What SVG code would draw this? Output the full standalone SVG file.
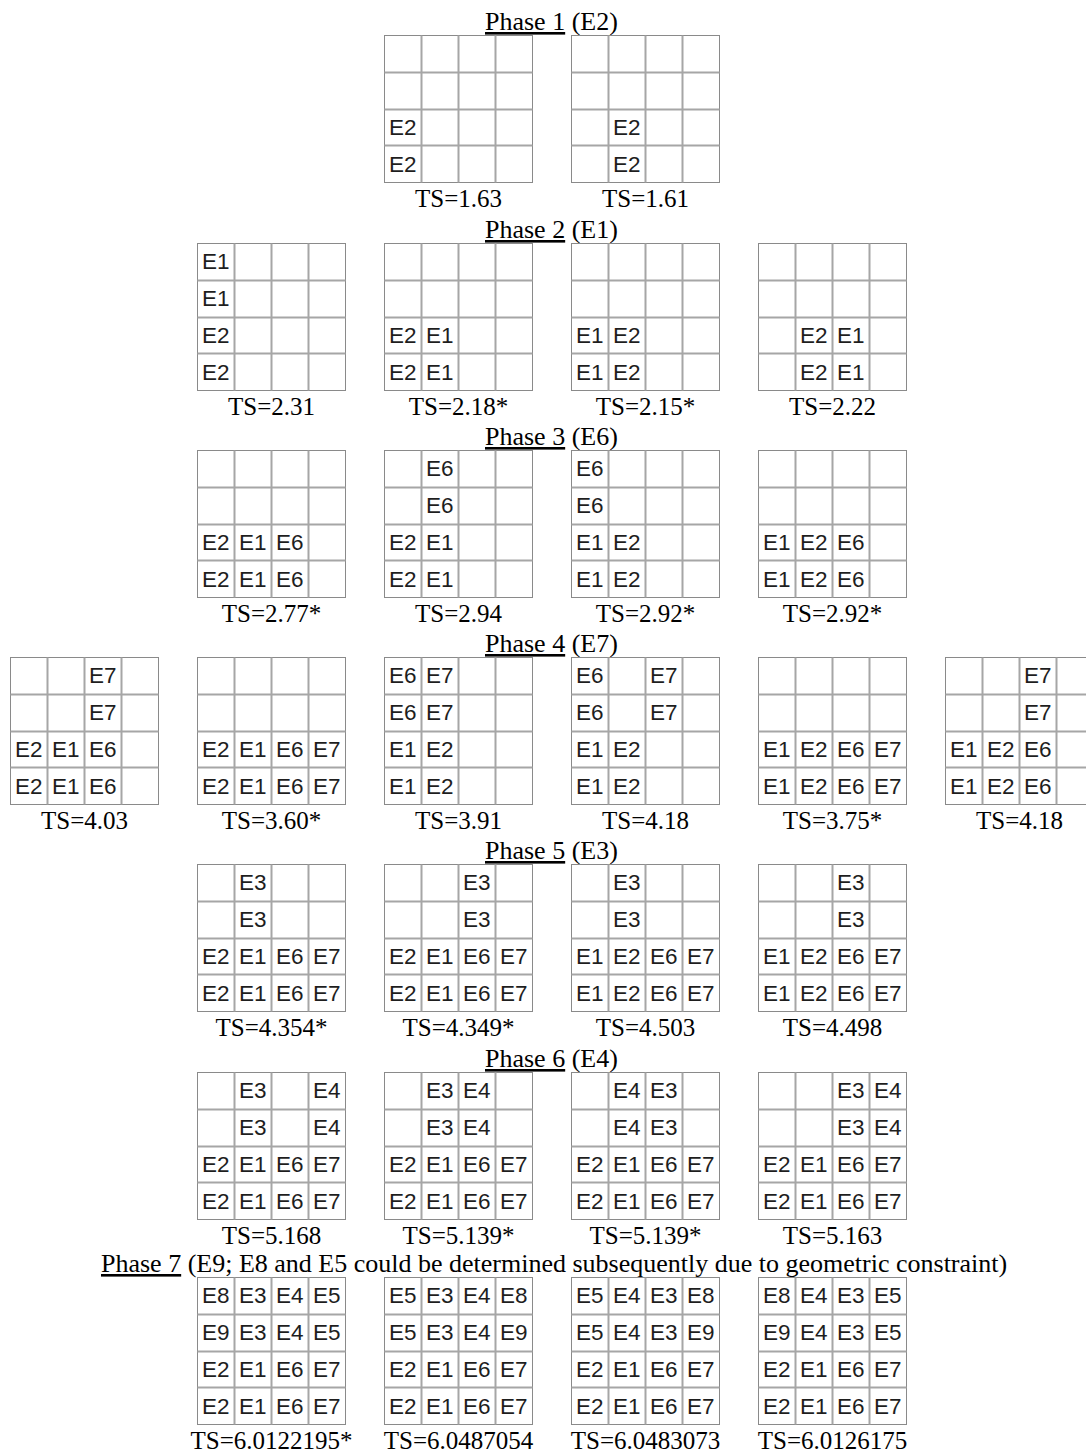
<svg xmlns="http://www.w3.org/2000/svg" xmlns:xlink="http://www.w3.org/1999/xlink" width="1086" height="1454" viewBox="0 0 1086 1454">
<style>
.ph{font-family:"Liberation Serif","Times New Roman",serif;font-size:26px;fill:#000}
.ts{font-family:"Liberation Serif","Times New Roman",serif;font-size:25px;fill:#000;text-anchor:middle}
.c{font-family:"Liberation Sans",Arial,sans-serif;font-size:22.5px;fill:#1e1e1e}
.u{text-decoration:underline}
</style>
<defs>
<g id="grid">
<rect x="0" y="0" width="148" height="147" fill="#fff" stroke="#8a8a8a" stroke-width="1"/>
<path d="M37 0V147M74 0V147M111 0V147M0 37H148M0 74H148M0 110H148" stroke="#a6a6a6" stroke-width="2" fill="none"/>
</g>
</defs>
<rect width="1086" height="1454" fill="#fff"/>

<!-- Phase labels -->
<g id="labels">
<text class="ph" x="485" y="30"><tspan class="u">Phase 1</tspan> (E2)</text>
<text class="ph" x="485" y="238"><tspan class="u">Phase 2</tspan> (E1)</text>
<text class="ph" x="485" y="445"><tspan class="u">Phase 3</tspan> (E6)</text>
<text class="ph" x="485" y="652"><tspan class="u">Phase 4</tspan> (E7)</text>
<text class="ph" x="485" y="859"><tspan class="u">Phase 5</tspan> (E3)</text>
<text class="ph" x="485" y="1067"><tspan class="u">Phase 6</tspan> (E4)</text>
<text class="ph" x="101" y="1272"><tspan class="u">Phase 7</tspan> (E9; E8 and E5 could be determined subsequently due to geometric constraint)</text>
</g>

<!-- Phase 1 -->
<g id="p1g1" transform="translate(384.5,35.5)"><use xlink:href="#grid"/>
<text class="c" x="4.5" y="99">E2</text><text class="c" x="4.5" y="136">E2</text>
<text class="ts" x="74" y="171">TS=1.63</text></g>
<g id="p1g2" transform="translate(571.5,35.5)"><use xlink:href="#grid"/>
<text class="c" x="41.5" y="99">E2</text><text class="c" x="41.5" y="136">E2</text>
<text class="ts" x="74" y="171">TS=1.61</text></g>

<!-- Phase 2 -->
<g id="p2g1" transform="translate(197.5,243.5)"><use xlink:href="#grid"/>
<text class="c" x="4.5" y="25">E1</text><text class="c" x="4.5" y="62">E1</text>
<text class="c" x="4.5" y="99">E2</text><text class="c" x="4.5" y="136">E2</text>
<text class="ts" x="74" y="171">TS=2.31</text></g>
<g id="p2g2" transform="translate(384.5,243.5)"><use xlink:href="#grid"/>
<text class="c" x="4.5" y="99">E2</text><text class="c" x="41.5" y="99">E1</text>
<text class="c" x="4.5" y="136">E2</text><text class="c" x="41.5" y="136">E1</text>
<text class="ts" x="74" y="171">TS=2.18*</text></g>
<g id="p2g3" transform="translate(571.5,243.5)"><use xlink:href="#grid"/>
<text class="c" x="4.5" y="99">E1</text><text class="c" x="41.5" y="99">E2</text>
<text class="c" x="4.5" y="136">E1</text><text class="c" x="41.5" y="136">E2</text>
<text class="ts" x="74" y="171">TS=2.15*</text></g>
<g id="p2g4" transform="translate(758.5,243.5)"><use xlink:href="#grid"/>
<text class="c" x="41.5" y="99">E2</text><text class="c" x="78.5" y="99">E1</text>
<text class="c" x="41.5" y="136">E2</text><text class="c" x="78.5" y="136">E1</text>
<text class="ts" x="74" y="171">TS=2.22</text></g>

<!-- Phase 3 -->
<g id="p3g1" transform="translate(197.5,450.5)"><use xlink:href="#grid"/>
<text class="c" x="4.5" y="99">E2</text><text class="c" x="41.5" y="99">E1</text><text class="c" x="78.5" y="99">E6</text>
<text class="c" x="4.5" y="136">E2</text><text class="c" x="41.5" y="136">E1</text><text class="c" x="78.5" y="136">E6</text>
<text class="ts" x="74" y="171">TS=2.77*</text></g>
<g id="p3g2" transform="translate(384.5,450.5)"><use xlink:href="#grid"/>
<text class="c" x="41.5" y="25">E6</text><text class="c" x="41.5" y="62">E6</text>
<text class="c" x="4.5" y="99">E2</text><text class="c" x="41.5" y="99">E1</text>
<text class="c" x="4.5" y="136">E2</text><text class="c" x="41.5" y="136">E1</text>
<text class="ts" x="74" y="171">TS=2.94</text></g>
<g id="p3g3" transform="translate(571.5,450.5)"><use xlink:href="#grid"/>
<text class="c" x="4.5" y="25">E6</text><text class="c" x="4.5" y="62">E6</text>
<text class="c" x="4.5" y="99">E1</text><text class="c" x="41.5" y="99">E2</text>
<text class="c" x="4.5" y="136">E1</text><text class="c" x="41.5" y="136">E2</text>
<text class="ts" x="74" y="171">TS=2.92*</text></g>
<g id="p3g4" transform="translate(758.5,450.5)"><use xlink:href="#grid"/>
<text class="c" x="4.5" y="99">E1</text><text class="c" x="41.5" y="99">E2</text><text class="c" x="78.5" y="99">E6</text>
<text class="c" x="4.5" y="136">E1</text><text class="c" x="41.5" y="136">E2</text><text class="c" x="78.5" y="136">E6</text>
<text class="ts" x="74" y="171">TS=2.92*</text></g>

<!-- Phase 4 -->
<g id="p4g1" transform="translate(10.5,657.5)"><use xlink:href="#grid"/>
<text class="c" x="78.5" y="25">E7</text><text class="c" x="78.5" y="62">E7</text>
<text class="c" x="4.5" y="99">E2</text><text class="c" x="41.5" y="99">E1</text><text class="c" x="78.5" y="99">E6</text>
<text class="c" x="4.5" y="136">E2</text><text class="c" x="41.5" y="136">E1</text><text class="c" x="78.5" y="136">E6</text>
<text class="ts" x="74" y="171">TS=4.03</text></g>
<g id="p4g2" transform="translate(197.5,657.5)"><use xlink:href="#grid"/>
<text class="c" x="4.5" y="99">E2</text><text class="c" x="41.5" y="99">E1</text><text class="c" x="78.5" y="99">E6</text><text class="c" x="115.5" y="99">E7</text>
<text class="c" x="4.5" y="136">E2</text><text class="c" x="41.5" y="136">E1</text><text class="c" x="78.5" y="136">E6</text><text class="c" x="115.5" y="136">E7</text>
<text class="ts" x="74" y="171">TS=3.60*</text></g>
<g id="p4g3" transform="translate(384.5,657.5)"><use xlink:href="#grid"/>
<text class="c" x="4.5" y="25">E6</text><text class="c" x="41.5" y="25">E7</text>
<text class="c" x="4.5" y="62">E6</text><text class="c" x="41.5" y="62">E7</text>
<text class="c" x="4.5" y="99">E1</text><text class="c" x="41.5" y="99">E2</text>
<text class="c" x="4.5" y="136">E1</text><text class="c" x="41.5" y="136">E2</text>
<text class="ts" x="74" y="171">TS=3.91</text></g>
<g id="p4g4" transform="translate(571.5,657.5)"><use xlink:href="#grid"/>
<text class="c" x="4.5" y="25">E6</text><text class="c" x="78.5" y="25">E7</text>
<text class="c" x="4.5" y="62">E6</text><text class="c" x="78.5" y="62">E7</text>
<text class="c" x="4.5" y="99">E1</text><text class="c" x="41.5" y="99">E2</text>
<text class="c" x="4.5" y="136">E1</text><text class="c" x="41.5" y="136">E2</text>
<text class="ts" x="74" y="171">TS=4.18</text></g>
<g id="p4g5" transform="translate(758.5,657.5)"><use xlink:href="#grid"/>
<text class="c" x="4.5" y="99">E1</text><text class="c" x="41.5" y="99">E2</text><text class="c" x="78.5" y="99">E6</text><text class="c" x="115.5" y="99">E7</text>
<text class="c" x="4.5" y="136">E1</text><text class="c" x="41.5" y="136">E2</text><text class="c" x="78.5" y="136">E6</text><text class="c" x="115.5" y="136">E7</text>
<text class="ts" x="74" y="171">TS=3.75*</text></g>
<g id="p4g6" transform="translate(945.5,657.5)"><use xlink:href="#grid"/>
<text class="c" x="78.5" y="25">E7</text><text class="c" x="78.5" y="62">E7</text>
<text class="c" x="4.5" y="99">E1</text><text class="c" x="41.5" y="99">E2</text><text class="c" x="78.5" y="99">E6</text>
<text class="c" x="4.5" y="136">E1</text><text class="c" x="41.5" y="136">E2</text><text class="c" x="78.5" y="136">E6</text>
<text class="ts" x="74" y="171">TS=4.18</text></g>

<!-- Phase 5 -->
<g id="p5g1" transform="translate(197.5,864.5)"><use xlink:href="#grid"/>
<text class="c" x="41.5" y="25">E3</text><text class="c" x="41.5" y="62">E3</text>
<text class="c" x="4.5" y="99">E2</text><text class="c" x="41.5" y="99">E1</text><text class="c" x="78.5" y="99">E6</text><text class="c" x="115.5" y="99">E7</text>
<text class="c" x="4.5" y="136">E2</text><text class="c" x="41.5" y="136">E1</text><text class="c" x="78.5" y="136">E6</text><text class="c" x="115.5" y="136">E7</text>
<text class="ts" x="74" y="171">TS=4.354*</text></g>
<g id="p5g2" transform="translate(384.5,864.5)"><use xlink:href="#grid"/>
<text class="c" x="78.5" y="25">E3</text><text class="c" x="78.5" y="62">E3</text>
<text class="c" x="4.5" y="99">E2</text><text class="c" x="41.5" y="99">E1</text><text class="c" x="78.5" y="99">E6</text><text class="c" x="115.5" y="99">E7</text>
<text class="c" x="4.5" y="136">E2</text><text class="c" x="41.5" y="136">E1</text><text class="c" x="78.5" y="136">E6</text><text class="c" x="115.5" y="136">E7</text>
<text class="ts" x="74" y="171">TS=4.349*</text></g>
<g id="p5g3" transform="translate(571.5,864.5)"><use xlink:href="#grid"/>
<text class="c" x="41.5" y="25">E3</text><text class="c" x="41.5" y="62">E3</text>
<text class="c" x="4.5" y="99">E1</text><text class="c" x="41.5" y="99">E2</text><text class="c" x="78.5" y="99">E6</text><text class="c" x="115.5" y="99">E7</text>
<text class="c" x="4.5" y="136">E1</text><text class="c" x="41.5" y="136">E2</text><text class="c" x="78.5" y="136">E6</text><text class="c" x="115.5" y="136">E7</text>
<text class="ts" x="74" y="171">TS=4.503</text></g>
<g id="p5g4" transform="translate(758.5,864.5)"><use xlink:href="#grid"/>
<text class="c" x="78.5" y="25">E3</text><text class="c" x="78.5" y="62">E3</text>
<text class="c" x="4.5" y="99">E1</text><text class="c" x="41.5" y="99">E2</text><text class="c" x="78.5" y="99">E6</text><text class="c" x="115.5" y="99">E7</text>
<text class="c" x="4.5" y="136">E1</text><text class="c" x="41.5" y="136">E2</text><text class="c" x="78.5" y="136">E6</text><text class="c" x="115.5" y="136">E7</text>
<text class="ts" x="74" y="171">TS=4.498</text></g>

<!-- Phase 6 -->
<g id="p6g1" transform="translate(197.5,1072.5)"><use xlink:href="#grid"/>
<text class="c" x="41.5" y="25">E3</text><text class="c" x="115.5" y="25">E4</text>
<text class="c" x="41.5" y="62">E3</text><text class="c" x="115.5" y="62">E4</text>
<text class="c" x="4.5" y="99">E2</text><text class="c" x="41.5" y="99">E1</text><text class="c" x="78.5" y="99">E6</text><text class="c" x="115.5" y="99">E7</text>
<text class="c" x="4.5" y="136">E2</text><text class="c" x="41.5" y="136">E1</text><text class="c" x="78.5" y="136">E6</text><text class="c" x="115.5" y="136">E7</text>
<text class="ts" x="74" y="171">TS=5.168</text></g>
<g id="p6g2" transform="translate(384.5,1072.5)"><use xlink:href="#grid"/>
<text class="c" x="41.5" y="25">E3</text><text class="c" x="78.5" y="25">E4</text>
<text class="c" x="41.5" y="62">E3</text><text class="c" x="78.5" y="62">E4</text>
<text class="c" x="4.5" y="99">E2</text><text class="c" x="41.5" y="99">E1</text><text class="c" x="78.5" y="99">E6</text><text class="c" x="115.5" y="99">E7</text>
<text class="c" x="4.5" y="136">E2</text><text class="c" x="41.5" y="136">E1</text><text class="c" x="78.5" y="136">E6</text><text class="c" x="115.5" y="136">E7</text>
<text class="ts" x="74" y="171">TS=5.139*</text></g>
<g id="p6g3" transform="translate(571.5,1072.5)"><use xlink:href="#grid"/>
<text class="c" x="41.5" y="25">E4</text><text class="c" x="78.5" y="25">E3</text>
<text class="c" x="41.5" y="62">E4</text><text class="c" x="78.5" y="62">E3</text>
<text class="c" x="4.5" y="99">E2</text><text class="c" x="41.5" y="99">E1</text><text class="c" x="78.5" y="99">E6</text><text class="c" x="115.5" y="99">E7</text>
<text class="c" x="4.5" y="136">E2</text><text class="c" x="41.5" y="136">E1</text><text class="c" x="78.5" y="136">E6</text><text class="c" x="115.5" y="136">E7</text>
<text class="ts" x="74" y="171">TS=5.139*</text></g>
<g id="p6g4" transform="translate(758.5,1072.5)"><use xlink:href="#grid"/>
<text class="c" x="78.5" y="25">E3</text><text class="c" x="115.5" y="25">E4</text>
<text class="c" x="78.5" y="62">E3</text><text class="c" x="115.5" y="62">E4</text>
<text class="c" x="4.5" y="99">E2</text><text class="c" x="41.5" y="99">E1</text><text class="c" x="78.5" y="99">E6</text><text class="c" x="115.5" y="99">E7</text>
<text class="c" x="4.5" y="136">E2</text><text class="c" x="41.5" y="136">E1</text><text class="c" x="78.5" y="136">E6</text><text class="c" x="115.5" y="136">E7</text>
<text class="ts" x="74" y="171">TS=5.163</text></g>

<!-- Phase 7 -->
<g id="p7g1" transform="translate(197.5,1277.5)"><use xlink:href="#grid"/>
<text class="c" x="4.5" y="25">E8</text><text class="c" x="41.5" y="25">E3</text><text class="c" x="78.5" y="25">E4</text><text class="c" x="115.5" y="25">E5</text>
<text class="c" x="4.5" y="62">E9</text><text class="c" x="41.5" y="62">E3</text><text class="c" x="78.5" y="62">E4</text><text class="c" x="115.5" y="62">E5</text>
<text class="c" x="4.5" y="99">E2</text><text class="c" x="41.5" y="99">E1</text><text class="c" x="78.5" y="99">E6</text><text class="c" x="115.5" y="99">E7</text>
<text class="c" x="4.5" y="136">E2</text><text class="c" x="41.5" y="136">E1</text><text class="c" x="78.5" y="136">E6</text><text class="c" x="115.5" y="136">E7</text>
<text class="ts" x="74" y="171">TS=6.0122195*</text></g>
<g id="p7g2" transform="translate(384.5,1277.5)"><use xlink:href="#grid"/>
<text class="c" x="4.5" y="25">E5</text><text class="c" x="41.5" y="25">E3</text><text class="c" x="78.5" y="25">E4</text><text class="c" x="115.5" y="25">E8</text>
<text class="c" x="4.5" y="62">E5</text><text class="c" x="41.5" y="62">E3</text><text class="c" x="78.5" y="62">E4</text><text class="c" x="115.5" y="62">E9</text>
<text class="c" x="4.5" y="99">E2</text><text class="c" x="41.5" y="99">E1</text><text class="c" x="78.5" y="99">E6</text><text class="c" x="115.5" y="99">E7</text>
<text class="c" x="4.5" y="136">E2</text><text class="c" x="41.5" y="136">E1</text><text class="c" x="78.5" y="136">E6</text><text class="c" x="115.5" y="136">E7</text>
<text class="ts" x="74" y="171">TS=6.0487054</text></g>
<g id="p7g3" transform="translate(571.5,1277.5)"><use xlink:href="#grid"/>
<text class="c" x="4.5" y="25">E5</text><text class="c" x="41.5" y="25">E4</text><text class="c" x="78.5" y="25">E3</text><text class="c" x="115.5" y="25">E8</text>
<text class="c" x="4.5" y="62">E5</text><text class="c" x="41.5" y="62">E4</text><text class="c" x="78.5" y="62">E3</text><text class="c" x="115.5" y="62">E9</text>
<text class="c" x="4.5" y="99">E2</text><text class="c" x="41.5" y="99">E1</text><text class="c" x="78.5" y="99">E6</text><text class="c" x="115.5" y="99">E7</text>
<text class="c" x="4.5" y="136">E2</text><text class="c" x="41.5" y="136">E1</text><text class="c" x="78.5" y="136">E6</text><text class="c" x="115.5" y="136">E7</text>
<text class="ts" x="74" y="171">TS=6.0483073</text></g>
<g id="p7g4" transform="translate(758.5,1277.5)"><use xlink:href="#grid"/>
<text class="c" x="4.5" y="25">E8</text><text class="c" x="41.5" y="25">E4</text><text class="c" x="78.5" y="25">E3</text><text class="c" x="115.5" y="25">E5</text>
<text class="c" x="4.5" y="62">E9</text><text class="c" x="41.5" y="62">E4</text><text class="c" x="78.5" y="62">E3</text><text class="c" x="115.5" y="62">E5</text>
<text class="c" x="4.5" y="99">E2</text><text class="c" x="41.5" y="99">E1</text><text class="c" x="78.5" y="99">E6</text><text class="c" x="115.5" y="99">E7</text>
<text class="c" x="4.5" y="136">E2</text><text class="c" x="41.5" y="136">E1</text><text class="c" x="78.5" y="136">E6</text><text class="c" x="115.5" y="136">E7</text>
<text class="ts" x="74" y="171">TS=6.0126175</text></g>

<g id="connectors"></g>
</svg>
